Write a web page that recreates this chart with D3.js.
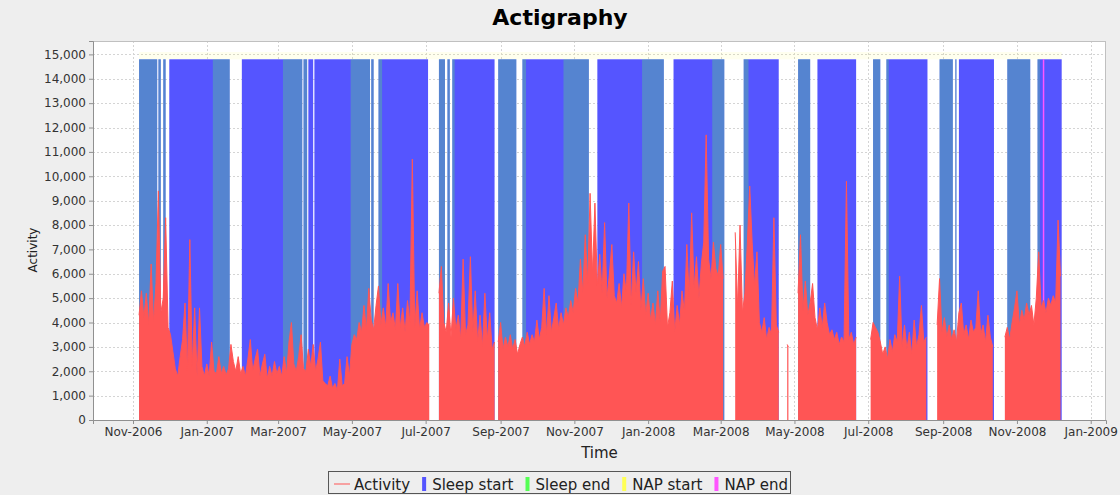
<!DOCTYPE html>
<html>
<head>
<meta charset="utf-8">
<script src="https://cdn.jsdelivr.net/npm/d3@7"></script>
<style>
  body { margin: 0; background: #eeeeee; }
  text { font-family: "DejaVu Sans", sans-serif; }
</style>
</head>
<body>
<svg id="chart" width="1120" height="495"></svg>
<script>
// ---- data ----

var yTicks = [0, 1000, 2000, 3000, 4000, 5000, 6000, 7000, 8000, 9000, 10000, 11000, 12000, 13000, 14000, 15000];
var xDomain = ["2006-09-28T22:00:00Z", "2009-01-13T15:30:00Z"];
var yMax = 15550;

// sleep / nap markers are drawn as bars of a fixed height
var markerLevel = 14800;
var napLevel = 15100;

// runs of days with a "sleep start" bar (blue)
var sleepStartRuns = [
  ["2006-11-06","2006-11-21"], ["2006-11-22","2006-11-24"], ["2006-11-26","2006-11-28"],
  ["2006-12-01","2007-01-20"], ["2007-01-30","2007-03-21"], ["2007-03-22","2007-03-25"],
  ["2007-03-26","2007-03-30"], ["2007-03-31","2007-05-16"], ["2007-05-17","2007-05-19"],
  ["2007-05-23","2007-07-03"], ["2007-07-12","2007-07-17"], ["2007-07-19","2007-07-21"],
  ["2007-07-23","2007-08-27"], ["2007-08-30","2007-09-14"], ["2007-09-19","2007-11-13"],
  ["2007-11-20","2008-01-14"], ["2008-01-22","2008-03-04"], ["2008-03-20","2008-04-18"],
  ["2008-05-04","2008-05-14"], ["2008-05-20","2008-06-21"], ["2008-07-05","2008-07-11"],
  ["2008-07-16","2008-08-19"], ["2008-08-29","2008-09-09"], ["2008-09-11","2008-09-12"],
  ["2008-09-14","2008-10-13"], ["2008-10-24","2008-11-12"], ["2008-11-18","2008-12-08"]
];

// runs where "sleep end" bars (green) interleave with the blue ones
var sleepEndRuns = [
  ["2006-11-06","2006-11-21"], ["2006-11-22","2006-11-24"], ["2006-11-26","2006-11-28"],
  ["2007-01-06","2007-01-20"], ["2007-03-05","2007-03-21"], ["2007-03-22","2007-03-25"],
  ["2007-04-30","2007-05-16"], ["2007-05-17","2007-05-19"], ["2007-05-23","2007-05-26"],
  ["2007-07-12","2007-07-17"], ["2007-07-19","2007-07-21"], ["2007-07-23","2007-07-25"],
  ["2007-08-30","2007-09-14"], ["2007-09-19","2007-09-22"], ["2007-10-23","2007-11-13"],
  ["2007-12-27","2008-01-14"], ["2008-02-23","2008-03-04"], ["2008-03-20","2008-03-24"],
  ["2008-05-04","2008-05-14"], ["2008-07-05","2008-07-11"], ["2008-07-16","2008-07-18"],
  ["2008-08-29","2008-09-09"], ["2008-09-11","2008-09-12"], ["2008-10-24","2008-11-12"],
  ["2008-11-18","2008-11-20"]
];

var napStartRuns = [["2006-11-06","2008-12-08"]];
var napEndDays = ["2008-11-23"];

// activity: start day, spacing in days, then the peak values
var activityStarts = ["2006-11-06", "2007-07-12", "2007-08-30", "2008-03-13", "2008-04-25", "2008-05-04", "2008-07-03", "2008-08-27", "2008-10-22"];
var activitySteps = [2, 2, 2, 2, 1, 2, 2, 2, 2];

var activityA = [4300, 5300, 4200, 5200, 3900, 6400, 4000, 5600, 9400, 4400,
  5000, 8300, 3800, 3500, 2800, 2100, 1800, 2600, 3300, 4800,
  2000, 7400, 2200, 4600, 1800, 4600, 2200, 1800, 2300, 1800,
  3200, 2000, 1900, 2600, 1900, 2200, 1850, 2100, 3100, 2400,
  2000, 2600, 1900, 2200, 1800, 2500, 3300, 2000, 2500, 2900,
  1800, 2300, 2700, 1700, 2200, 1800, 2400, 1900, 2200, 1800,
  2600, 1900, 3200, 4000, 2300, 2000, 2600, 3500, 2100, 2000,
  2900, 2200, 3100, 2000, 2500, 3200, 1600, 1500, 1400, 1800,
  1300, 1500, 1200, 2500, 1400, 1500, 2600, 1800, 3100, 3500,
  3300, 4000, 3600, 4700, 3700, 5400, 4100, 3700, 4700, 5500,
  3900, 4600, 3800, 5600, 4000, 4400, 3700, 5600, 3800, 4600,
  3600, 4900, 4000, 10700, 3800, 5300, 3700, 4400, 3800, 4000, 3900];
var activityB = [5200, 6300, 4000, 3600, 4800, 3400, 5000, 3700, 4300, 3300,
  6600, 3500, 3900, 6700, 3600, 5300, 3200, 4300, 3000, 5200, 3300, 4400, 2900, 3200];
var activityC = [3200, 4000, 2900, 3400, 3000, 3500, 2900, 3300, 2700, 3100,
  3400, 3000, 3600, 3100, 3500, 3200, 4100, 3300, 3800, 5400,
  3500, 5100, 3600, 4200, 4800, 3700, 4400, 3900, 4600, 4200,
  4900, 4400, 5400, 4800, 6600, 5200, 7600, 5600, 9300, 6000,
  8900, 5500, 6800, 5200, 8100, 5000, 6000, 7200, 5100, 4800,
  5600, 4600, 6000, 5200, 8900, 4700, 6900, 5200, 6500, 4500,
  5800, 4300, 5200, 4100, 4800, 3900, 5300, 4000, 6100, 6300,
  3800, 4400, 5700, 3600, 4700, 3900, 5300, 4400, 7200, 5000,
  8500, 5400, 6700, 5000, 6400, 7300, 11700, 6600, 5800, 7300,
  6200, 5900, 7200, 5800];
var activityD = [7700, 4600, 8000, 4400, 5200, 7200, 9600, 7300, 5500, 6900,
  4000, 3600, 4200, 3300, 3800, 3500, 8300, 3900, 3600];
var activitySpike = [3100, 3000];
var activityE = [5200, 7600, 4500, 5700, 4300, 4800, 5600, 4200, 3700, 4600,
  3800, 4800, 4000, 3500, 3700, 3300, 3600, 3100, 3400, 3200,
  9800, 3300, 3600, 3100, 3400];
var activityF = [3300, 4000, 3800, 3600, 3200, 2700, 3000, 2500, 3300, 2800,
  3500, 3200, 5900, 3000, 3900, 2900, 3600, 2700, 4100, 3000,
  3500, 4700, 3200, 3400];
var activityG = [3900, 5800, 3600, 4200, 3400, 3900, 3300, 3700, 3200, 4400,
  4800, 3500, 3900, 3300, 4100, 3600, 3800, 5300, 3500, 3900,
  3200, 4300, 3400, 3000];
var activityH = [3400, 3800, 3300, 4000, 4600, 5300, 3900, 4500, 4100, 4800,
  4300, 4700, 3900, 5000, 6900, 4600, 4900, 4400, 5000, 4700,
  5100, 4800, 8200, 5900];
var activityValues = [activityA, activityB, activityC, activityD, activitySpike, activityE, activityF, activityG, activityH];

var legendNames = ["Activity", "Sleep start", "Sleep end", "NAP start", "NAP end"];
var legendColors = ["#ff5555", "#5555ff", "#55ff55", "#ffff55", "#ff55ff"];

// ---- chart ----

var parse = d3.utcParse("%Y-%m-%d");
var plot = { left: 93, top: 41, right: 1106, bottom: 420 };

var svg = d3.select("#chart");

svg.append("rect")
  .attr("width", 1120).attr("height", 495)
  .attr("fill", "#eeeeee");

var x = d3.scaleUtc()
  .domain(xDomain.map(function(d) { return new Date(d); }))
  .range([plot.left, plot.right]);

var y = d3.scaleLinear()
  .domain([0, yMax])
  .range([plot.bottom, plot.top]);

// plot background
svg.append("rect")
  .attr("x", plot.left).attr("y", plot.top)
  .attr("width", plot.right - plot.left).attr("height", plot.bottom - plot.top)
  .attr("fill", "#ffffff");

var monthTicks = x.ticks(d3.utcMonth.every(2));

// grid
var grid = svg.append("g")
  .attr("stroke", "#d4d4d4")
  .attr("stroke-width", 1)
  .attr("stroke-dasharray", "2,2");

grid.selectAll(".hg")
  .data(yTicks)
  .enter().append("line")
  .attr("x1", plot.left).attr("x2", plot.right)
  .attr("y1", d => Math.round(y(d)) + 0.5).attr("y2", d => Math.round(y(d)) + 0.5);

grid.selectAll(".vg")
  .data(monthTicks)
  .enter().append("line")
  .attr("y1", plot.top).attr("y2", plot.bottom)
  .attr("x1", d => Math.round(x(d)) + 0.5).attr("x2", d => Math.round(x(d)) + 0.5);

// NAP start (faint, sits just above the sleep bars)
svg.append("g").selectAll("rect")
  .data(napStartRuns)
  .enter().append("rect")
  .attr("x", d => x(parse(d[0])))
  .attr("width", d => x(parse(d[1])) - x(parse(d[0])))
  .attr("y", y(napLevel))
  .attr("height", y(markerLevel) - y(napLevel))
  .attr("fill", "#ffff55")
  .attr("opacity", 0.1);

// sleep start bars
svg.append("g").selectAll("rect")
  .data(sleepStartRuns)
  .enter().append("rect")
  .attr("x", d => x(parse(d[0])))
  .attr("width", d => x(parse(d[1])) - x(parse(d[0])))
  .attr("y", y(markerLevel))
  .attr("height", y(0) - y(markerLevel))
  .attr("fill", "#5555ff");

// sleep end bars, mixed in with the blue
svg.append("g").selectAll("rect")
  .data(sleepEndRuns)
  .enter().append("rect")
  .attr("x", d => x(parse(d[0])))
  .attr("width", d => x(parse(d[1])) - x(parse(d[0])))
  .attr("y", y(markerLevel))
  .attr("height", y(0) - y(markerLevel))
  .attr("fill", "#55ff55")
  .attr("opacity", 0.28);

// NAP end
svg.append("g").selectAll("rect")
  .data(napEndDays)
  .enter().append("rect")
  .attr("x", d => x(parse(d)) - 0.75)
  .attr("width", 1.5)
  .attr("y", y(markerLevel))
  .attr("height", y(0) - y(markerLevel))
  .attr("fill", "#ff55ff");

// activity
var area = d3.area()
  .x(d => x(d.date))
  .y0(y(0))
  .y1(d => y(d.v));

var line = d3.line()
  .x(d => x(d.date))
  .y(d => y(d.v));

var actG = svg.append("g");
activityStarts.forEach(function(start, k) {
  var s = parse(start);
  var pts = activityValues[k].map(function(v, i) {
    return { date: d3.utcDay.offset(s, i * activitySteps[k]), v: v };
  });
  actG.append("path")
    .datum(pts)
    .attr("d", area)
    .attr("fill", "#ff5555");
  actG.append("path")
    .datum(pts)
    .attr("d", line)
    .attr("fill", "none")
    .attr("stroke", "#ff5555")
    .attr("stroke-width", 1);
});

// outline
svg.append("rect")
  .attr("x", plot.left + 0.5).attr("y", plot.top + 0.5)
  .attr("width", plot.right - plot.left - 1).attr("height", plot.bottom - plot.top)
  .attr("fill", "none")
  .attr("stroke", "#c0c0c0");

// axes
var yAxis = d3.axisLeft(y)
  .tickValues(yTicks)
  .tickFormat(d3.format(","))
  .tickSize(4)
  .tickPadding(3);

var xAxis = d3.axisBottom(x)
  .tickValues(monthTicks)
  .tickFormat(d3.utcFormat("%b-%Y"))
  .tickSize(4)
  .tickPadding(3);

var yg = svg.append("g")
  .attr("transform", `translate(${plot.left},0)`)
  .call(yAxis);

var xg = svg.append("g")
  .attr("transform", `translate(0,${plot.bottom})`)
  .call(xAxis);

[yg, xg].forEach(function(g) {
  g.select(".domain").attr("stroke", "#909090");
  g.selectAll(".tick line").attr("stroke", "#909090");
  g.selectAll(".tick text")
    .attr("fill", "#333333")
    .style("font-family", "DejaVu Sans")
    .style("font-size", "12px");
});

// titles
svg.append("text")
  .attr("x", 560).attr("y", 25)
  .attr("text-anchor", "middle")
  .style("font-size", "22px")
  .style("font-weight", "bold")
  .attr("fill", "#000")
  .text("Actigraphy");

svg.append("text")
  .attr("x", (plot.left + plot.right) / 2).attr("y", 458)
  .attr("text-anchor", "middle")
  .style("font-size", "15px")
  .attr("fill", "#222")
  .text("Time");

svg.append("text")
  .attr("transform", "translate(37,250) rotate(-90)")
  .attr("text-anchor", "middle")
  .style("font-size", "12px")
  .attr("fill", "#222")
  .text("Activity");

// legend
var legend = svg.append("g");
var lx = 0;
legendNames.forEach(function(name, i) {
  var g = legend.append("g");
  if (i == 0) {
    g.append("line")
      .attr("x1", lx).attr("x2", lx + 16)
      .attr("y1", 484).attr("y2", 484)
      .attr("stroke", legendColors[i]).attr("stroke-width", 1);
    lx += 20;
  } else {
    g.append("rect")
      .attr("x", lx).attr("y", 477)
      .attr("width", 4).attr("height", 14)
      .attr("fill", legendColors[i]);
    lx += 10;
  }
  var t = g.append("text")
    .attr("x", lx).attr("y", 490)
    .style("font-size", "15px")
    .attr("fill", "#222")
    .text(name);
  lx += t.node().getComputedTextLength() + 12;
});
var legendW = lx - 12;
var legendRight = 788;
legend.attr("transform", `translate(${legendRight - legendW},0)`);
svg.append("rect")
  .attr("x", legendRight - legendW - 5.5).attr("y", 471.5)
  .attr("width", legendW + 8).attr("height", 22)
  .attr("fill", "none")
  .attr("stroke", "#555555");
</script>
</body>
</html>
